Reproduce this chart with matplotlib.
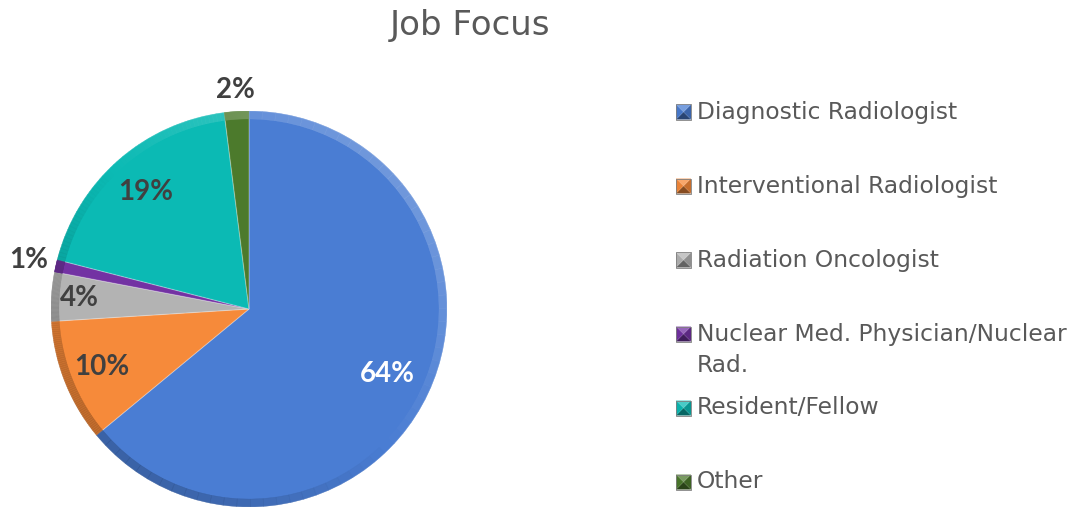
import matplotlib
matplotlib.use("Agg")
import matplotlib.pyplot as plt
from matplotlib.patches import Rectangle, Polygon
import numpy as np

# ---- data ----
title = "Job Focus"
categories = ["Diagnostic Radiologist", "Interventional Radiologist", "Radiation Oncologist",
              "Nuclear Med. Physician/Nuclear\nRad.", "Resident/Fellow", "Other"]
values = [64, 10, 4, 1, 19, 2]

# ---- style ----
colors = ["#4A7DD3", "#F68A3A", "#B3B3B3", "#7332A3", "#0BBAB4", "#4C7A2C"]
label_colors = ["white", "#404040", "#404040", "#404040", "#404040", "#404040"]
label_dist = [0.77, 0.80, 0.86, 1.14, 0.79, 1.11]

W, H = 1081, 507
fig = plt.figure(figsize=(W / 100, H / 100), dpi=100)

cx, cy, R = 249, 309, 198
ax = fig.add_axes([(cx - R) / W, (H - cy - R) / H, 2 * R / W, 2 * R / H])
wedges, _ = ax.pie(values, colors=colors, startangle=90, counterclock=False,
                   radius=1, wedgeprops=dict(linewidth=0.8, edgecolor="#ffffff40"))
ax.set_xlim(-1, 1)
ax.set_ylim(-1, 1)
ax.set_aspect("equal")
ax.axis("off")

def shade(c, f):
    rgb = np.array(matplotlib.colors.to_rgb(c))
    if f >= 0:
        rgb = rgb + (1 - rgb) * f
    else:
        rgb = rgb * (1 + f)
    return tuple(np.clip(rgb, 0, 1))

# simple bevel: rim along the outer arc
for w, c in zip(wedges, colors):
    t1, t2 = w.theta1, w.theta2
    ts = np.linspace(t1, t2, 60)
    for i in range(len(ts) - 1):
        a = np.deg2rad((ts[i] + ts[i + 1]) / 2)
        light = 0.35 * np.sin(a + np.pi / 4)
        col = shade(c, light)
        th = np.deg2rad([ts[i], ts[i + 1]])
        r0, r1 = 0.96, 1.0
        pts = [(r0 * np.cos(th[0]), r0 * np.sin(th[0])), (r1 * np.cos(th[0]), r1 * np.sin(th[0])),
               (r1 * np.cos(th[1]), r1 * np.sin(th[1])), (r0 * np.cos(th[1]), r0 * np.sin(th[1]))]
        ax.add_patch(Polygon(pts, closed=True, facecolor=col, edgecolor=col, linewidth=0.3, alpha=0.6))

for w, v, lc, d in zip(wedges, values, label_colors, label_dist):
    mid = np.deg2rad((w.theta1 + w.theta2) / 2)
    ax.text(d * np.cos(mid), d * np.sin(mid), f"{v}%", ha="center", va="center",
            fontsize=20, fontweight="bold", color=lc, family="Lato")

fig.text(470 / W, 1 - 26 / H, title, ha="center", va="center", fontsize=24.5,
         color="#595959", family="DejaVu Sans")

# legend
row_y = [112, 186, 260, 334, 408, 482]
mx, ms = 676, 15
for name, c, y in zip(categories, colors, row_y):
    x0, y0 = mx / W, 1 - (y + ms / 2) / H
    wf, hf = ms / W, ms / H
    corners = [(x0, y0), (x0 + wf, y0), (x0 + wf, y0 + hf), (x0, y0 + hf)]
    ctr = (x0 + wf / 2, y0 + hf / 2)
    shades = [-0.45, -0.2, 0.25, -0.05]  # bottom, right, top, left
    for k in range(4):
        tri = [corners[k], corners[(k + 1) % 4], ctr]
        fig.patches.append(Polygon(tri, closed=True, transform=fig.transFigure,
                                   facecolor=shade(c, shades[k]), edgecolor="none"))
    fig.patches.append(Rectangle((x0, y0), wf, hf, transform=fig.transFigure,
                                 facecolor="none", edgecolor="#7f7f7f", linewidth=0.6))
    if "\n" in name:
        first, second = name.split("\n")
        fig.text(697 / W, 1 - y / H, first, ha="left", va="center",
                 fontsize=16.8, color="#595959", family="DejaVu Sans")
        fig.text(697 / W, 1 - (y + 32) / H, second, ha="left", va="center",
                 fontsize=16.8, color="#595959", family="DejaVu Sans")
    else:
        fig.text(697 / W, 1 - y / H, name, ha="left", va="center",
                 fontsize=16.8, color="#595959", family="DejaVu Sans")

fig.savefig("out.png", dpi=100)
